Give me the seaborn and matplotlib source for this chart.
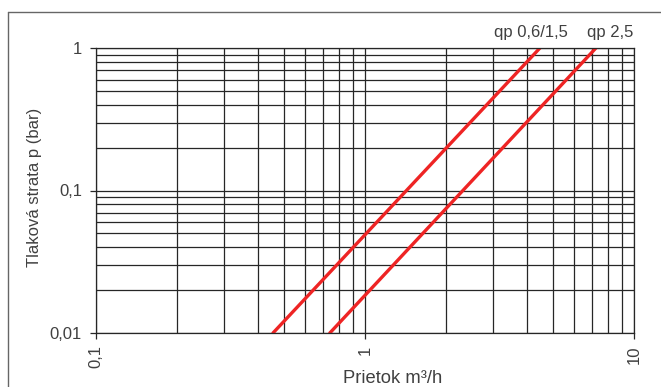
import matplotlib
matplotlib.use("Agg")
import matplotlib.pyplot as plt
import seaborn as sns
import pandas as pd
from matplotlib.ticker import FixedLocator, FuncFormatter, LogLocator, NullFormatter
from matplotlib.lines import Line2D

# values (flow m3/h, pressure loss bar)
flow_qp15 = [0.455, 4.47]
loss_qp15 = [0.01, 1.0]
flow_qp25 = [0.74, 7.22]
loss_qp25 = [0.01, 1.0]
series_names = ["qp 0,6/1,5", "qp 2,5"]
x_ticks = [0.1, 1, 10]
y_ticks = [0.01, 0.1, 1]

df = pd.DataFrame({
    "Q": flow_qp15 + flow_qp25,
    "p": loss_qp15 + loss_qp25,
    "serie": [series_names[0]] * 2 + [series_names[1]] * 2,
})

sns.set_theme(style="white")
plt.rcParams["font.family"] = ["Liberation Sans", "DejaVu Sans"]
text_col = "#404040"
grid_col = "#262626"

fig = plt.figure(figsize=(6.61, 3.87), dpi=100)
ax = fig.add_axes([96 / 661, 1 - 333 / 387, (634 - 96) / 661, (333 - 48) / 387])

ax.set_xscale("log")
ax.set_yscale("log")
ax.set_xlim(0.1, 10)
ax.set_ylim(0.01, 1)

# grid first, lines on top
ax.xaxis.set_minor_locator(LogLocator(base=10, subs=range(2, 10)))
ax.yaxis.set_minor_locator(LogLocator(base=10, subs=range(2, 10)))
ax.grid(True, which="both", color=grid_col, linewidth=0.9)
ax.set_axisbelow(True)

sns.lineplot(data=df, x="Q", y="p", hue="serie", palette=["#ee2424", "#ee2424"],
             linewidth=2.4, legend=False, ax=ax)

ax.xaxis.set_major_locator(FixedLocator(x_ticks))
ax.yaxis.set_major_locator(FixedLocator(y_ticks))
comma = FuncFormatter(lambda v, pos: f"{v:g}".replace(".", ","))
ax.xaxis.set_major_formatter(comma)
ax.yaxis.set_major_formatter(comma)
ax.xaxis.set_minor_formatter(NullFormatter())
ax.yaxis.set_minor_formatter(NullFormatter())
ax.tick_params(which="major", direction="out", length=4, width=0.9, color=grid_col,
               labelsize=12, labelcolor=text_col, left=True, bottom=True)
ax.tick_params(axis="y", pad=6)
ax.tick_params(axis="x", pad=5, labelrotation=90)
ax.tick_params(which="minor", length=0)
for s in ax.spines.values():
    s.set_color(grid_col)
    s.set_linewidth(0.9)
ax.set_xlabel("")
ax.set_ylabel("")

# series labels above the line ends
fig.text(568 / 661, 1 - 37 / 387, series_names[0], ha="right", va="baseline",
         fontsize=12, color=text_col)
fig.text(633 / 661, 1 - 37 / 387, series_names[1], ha="right", va="baseline",
         fontsize=12, color=text_col)

fig.text(343 / 661, 4 / 387, "Prietok m³/h", ha="left", va="baseline",
         fontsize=13.2, color=text_col)
fig.text(35 / 661, 1 - 187 / 387, "Tlaková strata p (bar)", ha="center", va="center",
         rotation=90, fontsize=12, color=text_col)

# outer frame (only top and left visible)
fig.add_artist(Line2D([8 / 661, 1.0], [1 - 11.5 / 387] * 2, color="#666666", linewidth=1.0))
fig.add_artist(Line2D([8 / 661] * 2, [0.0, 1 - 11.5 / 387], color="#666666", linewidth=1.0))

fig.savefig("out.png", dpi=100)
